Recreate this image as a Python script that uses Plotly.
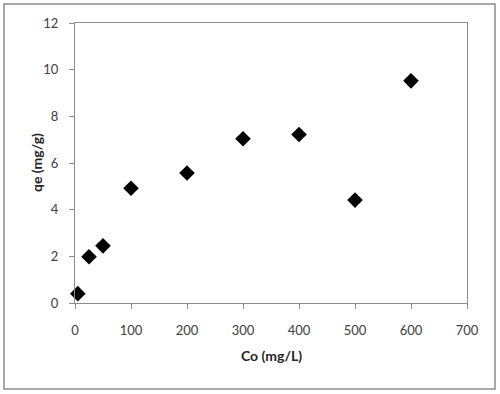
import plotly.graph_objects as go

co = [5, 25, 50, 100, 200, 300, 400, 500, 600]
qe = [0.4, 1.98, 2.45, 4.92, 5.57, 7.04, 7.22, 4.41, 9.52]
x_ticks = [0, 100, 200, 300, 400, 500, 600, 700]
y_ticks = [0, 2, 4, 6, 8, 10, 12]

W, H = 500, 394
L, R, T, B = 75, 33, 23, 91
pw, ph = W - L - R, H - T - B

fig = go.Figure()
fig.add_trace(go.Scatter(
    x=co, y=qe, mode="markers",
    marker=dict(symbol="diamond", size=12, color="black"),
    cliponaxis=False,
    showlegend=False,
))

axis_common = dict(
    showgrid=False, zeroline=False,
    showline=True, linecolor="#8c8c8c", linewidth=1, mirror=True,
    ticks="outside", ticklen=5, tickcolor="#8c8c8c",
    tickfont=dict(family="Lato", size=13, color="#404040"),
)
fig.update_xaxes(range=[0, 700], tickvals=x_ticks, ticklabelstandoff=10, **axis_common)
fig.update_yaxes(range=[0, 12], tickvals=y_ticks, ticklabelstandoff=8, **axis_common)

fig.add_annotation(
    text="<b>Co (mg/L)</b>", xref="paper", yref="paper",
    x=(271 - L) / pw, y=(303 - 355) / ph, showarrow=False,
    xanchor="center", yanchor="middle",
    font=dict(family="Lato", size=14, color="#262626"),
)
fig.add_annotation(
    text="<b>qe (mg/g)</b>", xref="paper", yref="paper",
    x=(36 - L) / pw, y=(303 - 163) / ph, showarrow=False, textangle=-90,
    xanchor="center", yanchor="middle",
    font=dict(family="Lato", size=14, color="#262626"),
)

fig.add_shape(
    type="rect", xref="paper", yref="paper",
    x0=(4 - L) / pw, x1=(495 - L) / pw,
    y0=(303 - 389) / ph, y1=(303 - 4) / ph,
    line=dict(color="#8c8c8c", width=1.5), layer="below",
)

fig.update_layout(
    width=W, height=H,
    margin=dict(l=L, r=R, t=T, b=B),
    paper_bgcolor="white", plot_bgcolor="white",
)
fig.write_html("out.html", config={"displayModeBar": False},
               post_script="document.body.style.margin='0';")
